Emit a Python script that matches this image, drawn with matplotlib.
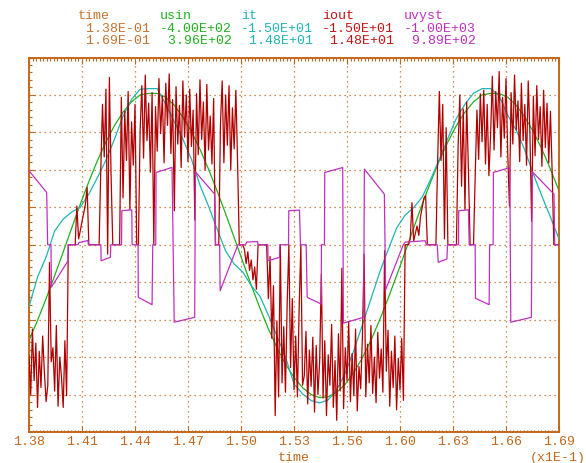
import numpy as np
import matplotlib
matplotlib.use('Agg')
import matplotlib.pyplot as plt
from matplotlib.ticker import AutoMinorLocator

# readout block above the plot (min / max of every trace)
names = ['time', 'usin', 'it', 'iout', 'uvyst']
mins = [1.38e-1, -4.00e2, -1.50e1, -1.50e1, -1.00e3]
maxs = [1.69e-1, 3.96e2, 1.48e1, 1.48e1, 9.89e2]

tick_labels = ['1.38', '1.41', '1.44', '1.47', '1.50', '1.53',
               '1.56', '1.60', '1.63', '1.66', '1.69']

# usin [V], read every 0.5 ms starting at 138 ms
usin_t0, usin_dt = 138.0, 0.5
usin = [-250, -198, -141, -81, -19, 44, 106, 165, 220, 269, 312, 347, 374, 392,
        396, 396, 386, 365, 334, 296, 250, 198, 141, 81, 19, -44, -106, -165,
        -220, -269, -312, -347, -374, -392, -400, -398, -386, -365, -334, -296,
        -250, -198, -141, -81, -19, 44, 106, 165, 220, 269, 312, 347, 374, 392,
        396, 396, 386, 365, 334, 296, 250, 198, 141]

# it [A], read every 0.5 ms starting at 138 ms
it_t0, it_dt = 138.0, 0.5
it = [-5.85, -3.06, -1.16, 1.30, 2.43, 3.10, 3.57, 4.80, 6.36, 8.02, 10.01,
      12.18, 13.79, 14.74, 14.8, 14.8, 13.32, 11.66, 10.03, 8.11, 5.65, 3.66,
      1.49, -0.60, -1.83, -2.58, -3.88, -4.86, -6.66, -8.64, -10.63, -13.19,
      -14.13, -14.77, -15.0, -14.70, -13.76, -12.15, -10.02, -7.60, -5.14,
      -2.68, -0.50, 1.58, 2.81, 3.52, 4.52, 6.22, 8.11, 10.10, 11.99, 13.32,
      14.36, 14.8, 14.8, 14.11, 12.28, 10.86, 8.97, 6.69, 4.61, 2.62, 0.54]

# iout [A], read every 0.1 ms starting at 138 ms
iout_t0, iout_dt = 138.0, 0.1
iout = [
    -9.5, -12.8, -7.2, -11.6, -8.4, -13.9, -9.1, -12.2, -7.8, -10.9, -13.4,
    -12.0, -1.5, -10.0,
    -8.8, -12.5, -6.9, -13.8, -9.6, -11.3, -13.9, -8.2, -12.9,
    0, 0, 0, 0, 0,
    3.3, 0.5, 1.2, 2.0, 2.7, 3.5, 4.9, 0,
    0, 0, 0, 0, 0, 0,
    6.5, 12.0, 7.5, 13.3, -0.8, 14.3, 6.0,
    0, 0, 0, 0, 0,
    12.6, 4.0, 11.4, 7.2, 13.1, 3.0, 10.5, 6.8, 12.0, 0,
    0,
    9.8, 13.6, 7.4, 14.5, 8.9, 12.1, 6.2, 13.0, 0.0, 11.8,
    8.0, 14.2, 9.5, 12.7, 7.0, 13.8, 10.2, 14.6, 7.8, 12.4,
    2.9, 13.5, 8.6, 11.9, 6.6, 14.0, 9.2, 12.8, 7.1, 13.3,
    8.4, 11.5, 2.1, 12.9, 7.7, 14.1, 9.0, 12.2, 6.4, 13.7,
    8.1, 11.0, 6.9, 12.5, 0.0,
    0, 0,
    10.4, 14.0, 7.0, 12.8, 8.5, 13.6, 6.4, 11.7, 8.2, 13.2, 7.0,
    0, 0, 0,
    -0.4, -1.6, -0.6, -2.2, -1.3, -3.0, -1.9, -3.8,
    0, 0, 0, 0, 0, 0,
    -4.6, -1.0, -8.0, -3.5, -14.6, -6.5, -13.0, 0.0, -11.8, -7.0, -12.6,
    -5.0, 0.0, -10.5, -4.6, -12.4, -7.8, -13.0, -5.5, 0.0, -12.0,
    -11.2, -7.4, -13.6, -9.0, -12.1, -7.9, -14.3, -8.6, -12.8, -10.0,
    -2.5, -13.1, -8.2, -14.6, -9.4, -12.0, -6.8, -13.9, -9.9, -15.0,
    -7.6, -12.5, -2.0, -14.0, -8.8, -11.6, -6.6, -13.4, -9.3, -12.9,
    -7.2, -14.2, -10.4, -12.3, -7.9, -0.8, -13.0, -8.5, -11.8, -6.9,
    -12.7, -9.6, -13.5, -7.5, -11.4, -8.9, -12.6, -0.5, -10.8, -7.3,
    -13.8, -9.1, -12.2, -7.8, -14.1, -9.7, -12.4, -8.0, -13.3,
    0, 0,
    0.0, 0.5, 3.6, 0.3, 1.0, 1.6, 0.8, 2.4, 3.2, 4.0, 4.2,
    0, 0, 0, 0, 0,
    0.0, 7.0, 13.1, 7.2, 12.0, 0.5, 10.0,
    0, 0, 0, 0, 0, 0,
    8.5, 12.8, 5.0, 11.6, 3.0, 12.2, 6.5,
    0, 0, 0,
    6.0, 11.5, 7.3, 12.9, 8.8, 13.2, 6.9, 12.0, 5.9, 9.4,
    14.4, 8.1, 13.1, 10.0, 14.8, 7.5, 12.6, 9.1, 14.2, 7.9,
    3.3, 13.0, 8.6, 14.5, 9.8, 12.3, 7.1, 13.8, 8.9, 12.0,
    6.8, 14.0, 9.5, 2.0, 12.7, 7.6, 13.6, 9.0, 11.8, 6.7,
    13.2, 8.3, 12.1, 7.0, 11.4, 6.2,
    0, 0, 0, 0,
]

# uvyst [V], corner points of the stepped trace
uvyst_t = [138.000, 139.033, 139.092, 139.284, 139.314, 140.277, 140.294,
           140.861, 140.919, 141.444, 141.474, 142.203, 142.221, 142.758,
           142.787, 143.412, 143.429, 144.013, 144.031, 144.381, 144.393,
           145.198, 145.239, 145.414, 145.432, 146.366, 146.494, 147.691,
           147.732, 148.859, 148.917, 149.151, 149.180, 150.219, 150.669,
           150.727, 151.369, 151.398, 151.970, 151.982, 152.653, 152.671,
           153.179, 153.196, 153.821, 153.879, 154.212, 154.270, 155.088,
           155.105, 155.280, 155.298, 156.349, 156.390, 157.575, 157.616,
           158.784, 158.824, 158.854, 159.893, 160.010, 161.178, 161.236,
           161.878, 161.936, 162.444, 162.479, 163.121, 163.133, 163.705,
           163.746, 164.096, 164.114, 164.914, 164.943, 165.147, 165.164,
           166.122, 166.180, 167.383, 167.441, 168.708, 168.749, 169.000]
uvyst = [944, 668, 0, 0, -539, -208, 0,
         0, 28, 54, 0, 0, -204, -161,
         0, 0, 434, 446, 0, 0, -671,
         -765, 0, 0, 923, 987, -989, -926,
         931, 646, 0, 0, -586, 0, 0,
         34, 41, 0, 0, -204, -161, 0,
         0, 434, 442, 0, 0, -671, -756,
         0, 0, 923, 985, -1000, -926, 965,
         646, 0, -578, 0, 34, 51, 0,
         0, -224, -182, 0, 0, 434, 446,
         0, 0, -683, -765, 0, 0, 923,
         985, -989, -926, 931, 646, 0, 0]

frame_c = '#c2681c'
colors = ['#c47430', '#20b020', '#20b4b4', '#c41414', '#c030c0']
mono = 'Liberation Mono'
fsize = 9.5

usin_t = usin_t0 + usin_dt * np.arange(len(usin))
it_t = it_t0 + it_dt * np.arange(len(it))
iout_t = iout_t0 + iout_dt * np.arange(len(iout))

fig = plt.figure(figsize=(5.86, 4.64), dpi=100)
ax = fig.add_axes([29 / 586, 31 / 464, 530 / 586, 374.5 / 464])

ax.set_xlim(138, 169)
ax.set_ylim(-490, 490)
ax.set_xticks(np.linspace(138, 169, 11))
ax.set_xticklabels(tick_labels, family=mono, fontsize=fsize, color=frame_c)
ax.set_yticks(np.linspace(-490, 490, 11))
ax.xaxis.set_minor_locator(AutoMinorLocator(15))
ax.yaxis.set_minor_locator(AutoMinorLocator(5))
ax.tick_params(which='both', direction='in', top=True, right=True,
               color=frame_c, labelleft=False, width=0.8)
ax.tick_params(which='major', length=4, pad=2.5)
ax.tick_params(which='minor', length=1.8)
ax.grid(True, which='major', color=frame_c, linestyle=(0, (1, 3)),
        linewidth=0.9)
for sp in ax.spines.values():
    sp.set_color(frame_c)
    sp.set_linewidth(1.4)

ax.plot(usin_t, usin, color=colors[1], lw=0.9)

ax_it = ax.twinx()
ax_it.set_ylim(-17.75, 17.75)
ax_it.axis('off')
ax_it.plot(it_t, it, color=colors[2], lw=0.9)

ax_io = ax.twinx()
ax_io.set_ylim(-16.0, 16.0)
ax_io.axis('off')
ax_io.plot(iout_t, iout, color='#b00000', lw=0.9)

ax_uv = ax.twinx()
ax_uv.set_ylim(-2390, 2390)
ax_uv.axis('off')
ax_uv.plot(uvyst_t, uvyst, color=colors[4], lw=0.9)

# header readout
col_x = [78, 160, 241, 322, 404]
for x, n, lo, hi, c in zip(col_x, names, mins, maxs, colors):
    for y, s in [(16, n), (29, '{: .2E}'.format(lo)), (41, '{: .2E}'.format(hi))]:
        fig.text(x / 586, 1 - y / 464, s, family=mono, fontsize=fsize,
                 color=c, ha='left', va='center')

fig.text(294 / 586, 1 - 458 / 464, 'time', family=mono, fontsize=fsize,
         color=frame_c, ha='center', va='center')
fig.text(586 / 586, 1 - 458 / 464, '(x1E-1)', family=mono, fontsize=fsize,
         color=frame_c, ha='right', va='center')

plt.savefig('out.png', dpi=100)
